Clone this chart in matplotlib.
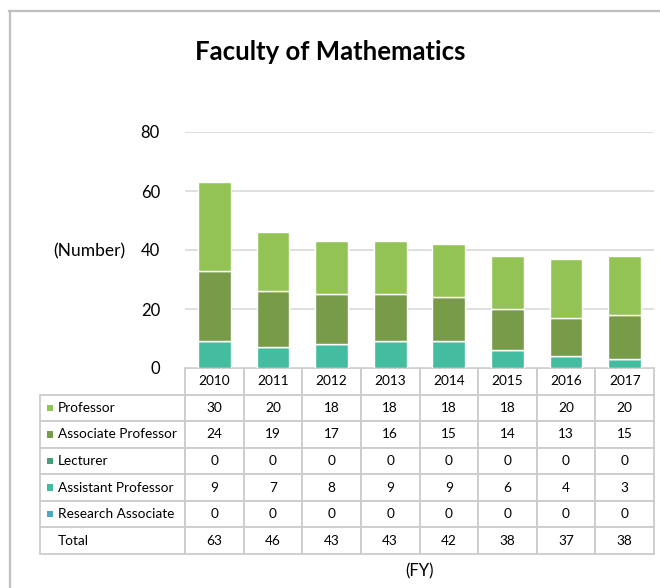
import matplotlib
matplotlib.use('Agg')
import matplotlib.pyplot as plt
from matplotlib.patches import Rectangle
from matplotlib.lines import Line2D
import numpy as np

plt.rcParams['font.family'] = ['Lato', 'DejaVu Sans']

# ---- data ----
years = ['2010', '2011', '2012', '2013', '2014', '2015', '2016', '2017']
professor = [30, 20, 18, 18, 18, 18, 20, 20]
assoc_prof = [24, 19, 17, 16, 15, 14, 13, 15]
lecturer = [0, 0, 0, 0, 0, 0, 0, 0]
asst_prof = [9, 7, 8, 9, 9, 6, 4, 3]
research_assoc = [0, 0, 0, 0, 0, 0, 0, 0]

series_names = ['Professor', 'Associate Professor', 'Lecturer',
                'Assistant Professor', 'Research Associate']
series_vals = [professor, assoc_prof, lecturer, asst_prof, research_assoc]
colors = ['#93c355', '#789b49', '#4a9e7b', '#43bc9f', '#4aa9c2']

W, H = 660, 588
fig = plt.figure(figsize=(W / 100, H / 100), dpi=100)

# outer frame (top and left edges visible)
fig.add_artist(Line2D([9 / W, 1], [1 - 10.5 / H, 1 - 10.5 / H],
                      transform=fig.transFigure, color='#bfbfbf', lw=1.6))
fig.add_artist(Line2D([9.5 / W, 9.5 / W], [0, 1 - 10.5 / H],
                      transform=fig.transFigure, color='#bfbfbf', lw=1.6))

ax_l, ax_r, ax_b, ax_t = 185, 654, 368, 132
ax = fig.add_axes([ax_l / W, 1 - ax_b / H, (ax_r - ax_l) / W, (ax_b - ax_t) / H])

x = np.arange(len(years))
bottom = np.zeros(len(years))
# stack from bottom: research assoc, asst prof, lecturer, assoc prof, professor
for name, vals, c in reversed(list(zip(series_names, series_vals, colors))):
    ax.bar(x, vals, width=0.56, bottom=bottom, color=c, edgecolor='white',
           linewidth=1.0, zorder=3)
    bottom += np.array(vals)

ax.set_xlim(-0.5, len(years) - 0.5)
ax.set_ylim(0, 80)
ax.set_yticks([0, 20, 40, 60, 80])
ax.tick_params(axis='y', length=0, pad=18, labelsize=12)
ax.tick_params(axis='x', length=0, labelbottom=False)
ax.grid(axis='y', color='#d9d9d9', lw=1.2, zorder=0)
for s in ax.spines.values():
    s.set_visible(False)

fig.text(89 / W, 1 - 251 / H, '(Number)', fontsize=12.5, ha='center', va='center')
fig.text(330 / W, 1 - 52 / H, 'Faculty of Mathematics', fontsize=18.5,
         fontweight='bold', ha='center', va='center')
fig.text(420 / W, 1 - 571 / H, '(FY)', fontsize=12, ha='center', va='center')

# ---- data table ----
totals = [sum(v) for v in zip(*series_vals)]
row_labels = series_names + ['Total']
body = [[str(v) for v in vals] for vals in series_vals] + [[str(t) for t in totals]]
cell_text = [[''] + years] + [[lab] + row for lab, row in zip(row_labels, body)]

tbl_left, tbl_top, tbl_bot = 40, 367, 553
axw, axh = ax_r - ax_l, ax_b - ax_t
bbox = [(tbl_left - ax_l) / axw, -(tbl_bot - tbl_top) / axh,
        (ax_r - tbl_left) / axw, (tbl_bot - tbl_top) / axh]
lab_w = ax_l - tbl_left
col_w = axw / len(years)
tbl = ax.table(cellText=cell_text, cellLoc='center', bbox=bbox,
               colWidths=[lab_w] + [col_w] * len(years))
tbl.auto_set_font_size(False)
tbl.set_fontsize(9.8)
for (r, c), cell in tbl.get_celld().items():
    cell.set_edgecolor('#cccccc')
    cell.set_linewidth(1.3)
    if c == 0:
        cell.PAD = 0.125
        cell._loc = 'left'
        cell.get_text().set_horizontalalignment('left')
    if r == 0 and c == 0:
        cell.visible_edges = ''

# colored markers next to row labels
nrows = len(cell_text)
row_h = bbox[3] / nrows
sq_w = 6.5 / axw
sq_h = 6.5 / axh
for i, c in enumerate(colors):
    yc = bbox[1] + bbox[3] - row_h * (i + 1.5)
    ax.add_patch(Rectangle(((47 - ax_l) / axw, yc - sq_h / 2), sq_w, sq_h,
                           transform=ax.transAxes, facecolor=c,
                           edgecolor='none', clip_on=False, zorder=5))

fig.savefig('out.png', dpi=100)
